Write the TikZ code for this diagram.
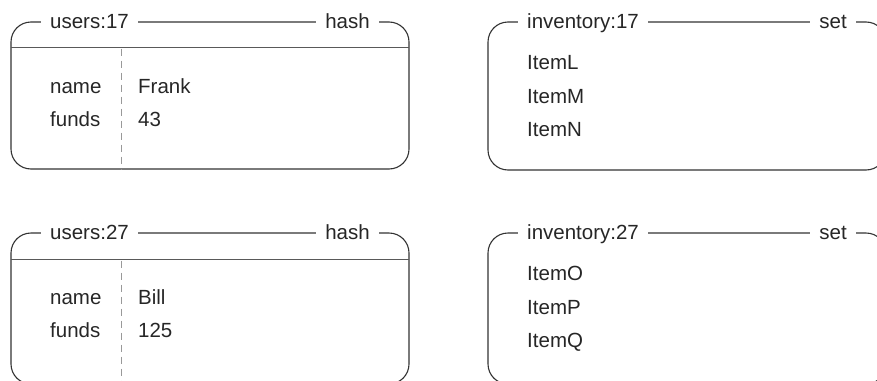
\documentclass[tikz,border=0pt]{standalone}
\usepackage{fontspec}
\setmainfont{Liberation Sans}
\begin{document}
\begin{tikzpicture}[x=1pt,y=-1pt,
  box/.style={draw=black!80, line width=1.1pt, rounded corners=20pt},
  ttl/.style={fill=white, inner xsep=9pt, inner ysep=1pt, font=\fontsize{20.5}{24}\selectfont, text=black!85},
  txt/.style={inner sep=0pt, anchor=base west, font=\fontsize{20.5}{24}\selectfont, text=black!85},
  sepline/.style={draw=black!65, line width=1.5pt},
  dsh/.style={draw=black!40, line width=1pt, dash pattern=on 7pt off 5pt}]
\clip (0,0) rectangle (877,380);
% ---------- users:17
\draw[box] (11,22) rectangle (409,169);
\draw[sepline] (11,47.5) -- (409,47.5);
\draw[dsh] (121,48.5) -- (121,169);
\node[ttl, anchor=base west] (u1t) at (41,28) {users:17};
\node[ttl, anchor=base east] (u1k) at (379,28) {hash};
\node[txt] (u1a) at (50,93) {name};
\node[txt] (u1b) at (50,126) {funds};
\node[txt] (u1c) at (138,93) {Frank};
\node[txt] (u1d) at (138,126) {43};
% ---------- inventory:17
\draw[box] (488,22) rectangle (886,170);
\node[ttl, anchor=base west] (i1t) at (518,28) {inventory:17};
\node[ttl, anchor=base east] (i1k) at (856,28) {set};
\node[txt] (i1a) at (527,69.5) {ItemL};
\node[txt] (i1b) at (527,103) {ItemM};
\node[txt] (i1c) at (527,136) {ItemN};
% ---------- users:27
\draw[box] (11,233) rectangle (409,384);
\draw[sepline] (11,259.5) -- (409,259.5);
\draw[dsh] (121,260.5) -- (121,384);
\node[ttl, anchor=base west] (u2t) at (41,239) {users:27};
\node[ttl, anchor=base east] (u2k) at (379,239) {hash};
\node[txt] (u2a) at (50,304.5) {name};
\node[txt] (u2b) at (50,337) {funds};
\node[txt] (u2c) at (138,304.5) {Bill};
\node[txt] (u2d) at (138,337) {125};
% ---------- inventory:27
\draw[box] (488,233) rectangle (886,384);
\node[ttl, anchor=base west] (i2t) at (518,239) {inventory:27};
\node[ttl, anchor=base east] (i2k) at (856,239) {set};
\node[txt] (i2a) at (527,280.5) {ItemO};
\node[txt] (i2b) at (527,314) {ItemP};
\node[txt] (i2c) at (527,347.5) {ItemQ};
\end{tikzpicture}
\end{document}
